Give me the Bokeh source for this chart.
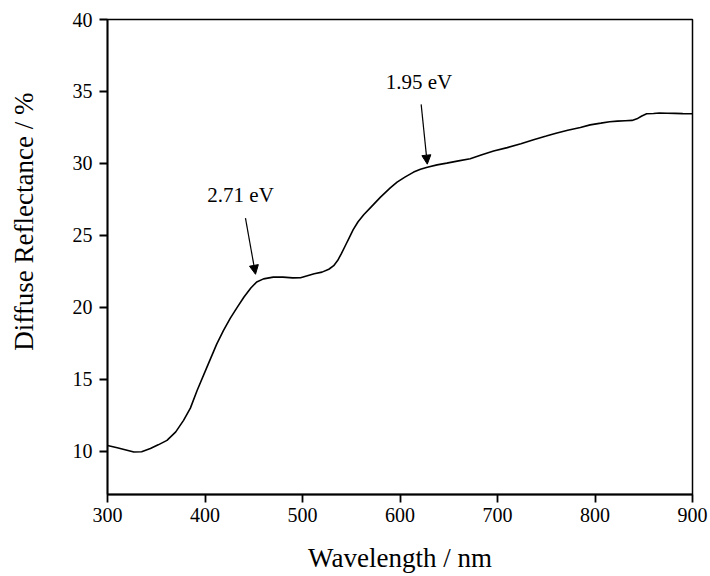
import math
from bokeh.plotting import figure
from bokeh.models import Label, Arrow, NormalHead, Range1d, FixedTicker, Title
from bokeh.embed import file_html
from bokeh.resources import INLINE

# Wavelength (nm) and diffuse reflectance (%)
wavelength = [300, 310, 320, 327, 335, 344, 352, 361, 370, 378, 385, 392, 402, 412,
              419, 426, 433, 440, 447, 453, 460, 470, 480, 490, 498, 505, 512, 520,
              527, 532, 536, 540, 544, 548, 552, 557, 563, 570, 580, 590, 597, 605, 614,
              621, 628, 638, 648, 660, 672, 684, 696, 710, 724, 737, 750, 760, 772,
              785, 795, 806, 815, 823, 831, 838, 843, 848, 853, 860, 866, 874, 882, 890,
              898, 900]
reflectance = [10.40, 10.25, 10.08, 9.95, 9.97, 10.19, 10.45, 10.76, 11.35, 12.15,
               13.0, 14.24, 15.85, 17.45, 18.4, 19.25, 20.0, 20.72, 21.35, 21.76,
               21.98, 22.1, 22.1, 22.05, 22.06, 22.2, 22.34, 22.45, 22.65, 22.9,
               23.25, 23.75, 24.3, 24.85, 25.4, 25.95, 26.45, 26.95, 27.66, 28.3, 28.70,
               29.05, 29.40, 29.6, 29.74, 29.9, 30.02, 30.18, 30.33, 30.6, 30.86,
               31.1, 31.37, 31.65, 31.9, 32.1, 32.3, 32.5, 32.68, 32.8, 32.9,
               32.94, 32.97, 32.99, 33.1, 33.3, 33.45, 33.47, 33.5, 33.49, 33.48, 33.46,
               33.45, 33.45]

x_ticks = [300, 400, 500, 600, 700, 800, 900]
y_ticks = [10, 15, 20, 25, 30, 35, 40]

# annotations: (text, text position, arrow start, arrow end)
ann_labels = ["2.71 eV", "1.95 eV"]
ann_text_pos = [(436.5, 27.8), (619.5, 35.65)]
ann_arrow_start = [(441.5, 26.2), (621.7, 34.1)]
ann_arrow_end = [(451.8, 22.3), (628.0, 29.95)]

FONT = "Liberation Serif"

p = figure(frame_width=585, frame_height=475, output_backend="svg",
           toolbar_location=None, x_range=Range1d(300, 900), y_range=Range1d(7, 40),
           min_border_left=40, min_border_top=19, min_border_right=16,
           min_border_bottom=82)
p.background_fill_color = "white"
p.border_fill_color = "white"
p.grid.visible = False
p.outline_line_color = "black"
p.outline_line_width = 1.5

p.line(wavelength, reflectance, line_color="black", line_width=1.6)

for ax in (p.xaxis, p.yaxis):
    ax.axis_line_width = 1.8
    ax.axis_line_color = "black"
    ax.major_tick_line_width = 1.8
    ax.major_tick_line_color = "black"
    ax.major_tick_out = 8
    ax.major_tick_in = 0
    ax.minor_tick_out = 0
    ax.minor_tick_in = 0
    ax.major_label_text_font = FONT
    ax.major_label_text_font_size = "20px"
    ax.major_label_text_color = "black"

p.xaxis.ticker = FixedTicker(ticks=x_ticks)
p.yaxis.ticker = FixedTicker(ticks=y_ticks)
p.xaxis.major_label_standoff = 5
p.yaxis.major_label_standoff = 7
p.xaxis.axis_label = "Wavelength / nm"
p.xaxis.axis_label_text_font = FONT
p.xaxis.axis_label_text_font_size = "27px"
p.xaxis.axis_label_text_font_style = "normal"
p.xaxis.axis_label_text_color = "black"
p.xaxis.axis_label_standoff = 18

# blank spacer label on the y axis to widen its panel
p.yaxis.axis_label = " "
p.yaxis.axis_label_text_font = FONT
p.yaxis.axis_label_text_font_size = "10px"
p.yaxis.axis_label_text_color = "white"
p.yaxis.axis_label_standoff = 10

p.add_layout(Title(text="Diffuse Reflectance / %", align="right", offset=73,
                   standoff=13, text_font=FONT, text_font_size="27px",
                   text_font_style="normal", text_color="black"), "left")

for t, tp, a0, a1 in zip(ann_labels, ann_text_pos, ann_arrow_start, ann_arrow_end):
    p.add_layout(Label(x=tp[0], y=tp[1], text=t, text_align="center",
                       text_baseline="middle", text_font=FONT,
                       text_font_size="21px", text_color="black"))
    p.add_layout(Arrow(end=NormalHead(size=9, fill_color="black", line_color="black",
                                      line_width=1),
                       x_start=a0[0], y_start=a0[1], x_end=a1[0], y_end=a1[1],
                       line_color="black", line_width=1.2))

open("out.html", "w").write(file_html(p, INLINE))
